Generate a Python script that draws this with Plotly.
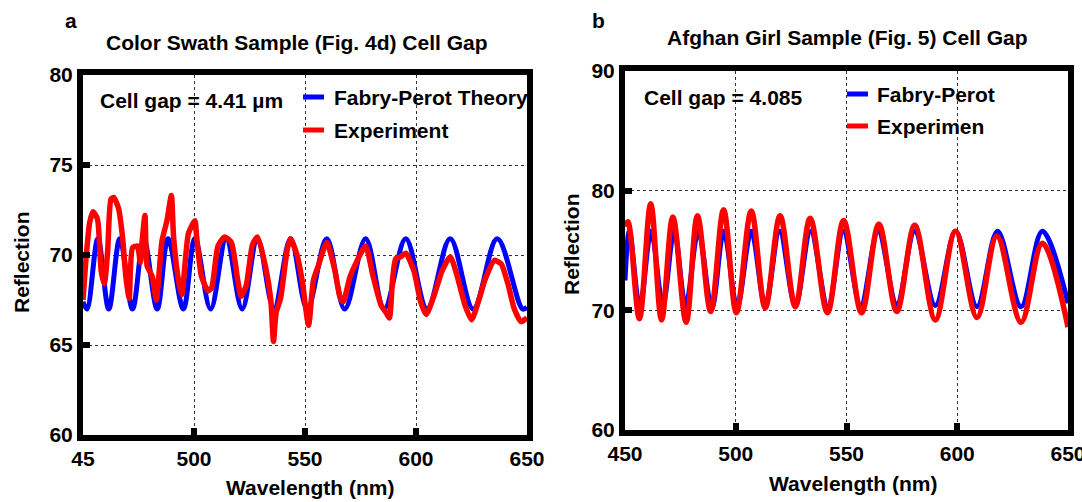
import plotly.graph_objects as go

# ---------------- data ----------------
# Panel a : Color Swath Sample (Fig. 4d)
fp_a_wl = [450, 451.8, 456.7, 461.6, 466.6, 472.3, 477.4, 483.4, 488.3, 495.2, 500.4, 507.5,
           514.5, 521.7, 528.6, 536.0, 543.5, 551.0, 559.8, 567.9, 577.3, 585.7, 595.4, 605.0,
           615.4, 625.8, 636.6, 648.0, 650]
fp_a_val = [67.4, 67.0, 70.9, 67.0, 70.9, 67.0, 70.9, 67.0, 70.9, 67.0, 70.9, 67.0,
            70.9, 67.0, 70.9, 67.0, 70.9, 67.0, 70.9, 67.0, 70.9, 67.0, 70.9, 67.0,
            70.9, 67.0, 70.9, 67.0, 67.1]

exp_a_wl = [450, 451.5, 453, 454.5, 456.5, 458.2, 459.6, 461.1, 462.6, 463.8, 466.0, 467.8,
            469.3, 470.8, 472.3, 474.5, 475.8, 476.8, 477.9, 478.9, 481.2, 483.0, 485.6,
            487.8, 489.8, 490.8, 493.0, 494.5, 497.5, 500.4, 501.2, 503.4, 506.4, 508.0,
            510.8, 513.8, 516.8, 519.7, 521.2, 523.5, 526.4, 528.6, 532.3, 534.6, 535.8,
            537.0, 539.0, 542.0, 543.5, 546.4, 548.7, 551.6, 553.8, 556.0, 559.8, 563.5,
            565.7, 567.2, 570.2, 572.4, 577.3, 580.5, 584.3, 586.5, 588.0, 589.4, 590.9,
            593.1, 595.4, 599.1, 602.1, 604.6, 608.0, 611.7, 615.4, 618.4, 622.1, 625.0,
            628.8, 631.0, 635.4, 638.4, 641.4, 644.3, 647.3, 650]
exp_a_val = [67.5, 70.0, 71.8, 72.4, 72.0, 69.1, 68.4, 70.2, 73.1, 73.2, 72.6, 71.0,
             68.8, 67.6, 70.4, 70.5, 69.6, 71.0, 72.2, 69.4, 68.8, 67.5, 70.8,
             71.9, 73.3, 71.0, 68.6, 67.8, 71.2, 71.9, 71.0, 68.8, 68.0, 68.2,
             70.5, 71.0, 70.7, 68.6, 67.7, 68.3, 70.6, 71.0, 69.3, 67.5, 65.2,
             66.8, 67.6, 70.3, 70.9, 70.0, 68.6, 66.1, 68.6, 69.4, 70.7, 69.1,
             67.7, 67.4, 68.75, 69.4, 70.5, 68.9, 67.2, 66.8, 66.5, 68.6, 69.8,
             69.9, 70.1, 69.1, 67.4, 66.7, 67.7, 69.1, 69.9, 68.9, 67.2, 66.4,
             67.7, 68.6, 69.7, 69.5, 68.4, 67.0, 66.3, 66.5]

# Panel b : Afghan Girl Sample (Fig. 5)
fp_b_wl = [450, 452.0, 456.7, 461.8, 467.1, 472.2, 477.4, 483.1, 489.2, 494.6, 500.6, 507.0,
           513.3, 519.8, 526.9, 533.8, 541.6, 548.6, 556.4, 564.3, 572.7, 580.8, 590.1,
           599.3, 608.9, 618.2, 628.8, 638.4, 650]
fp_b_val = [72.5, 76.6, 70.3, 76.6, 70.5, 76.6, 70.4, 76.6, 70.2, 76.6, 70.3, 76.6,
            70.4, 76.6, 70.4, 76.6, 70.3, 76.6, 70.4, 76.6, 70.5, 76.6, 70.4,
            76.6, 70.3, 76.6, 70.3, 76.6, 70.6]

exp_b_wl = [450, 451.3, 456.5, 461.6, 466.5, 471.6, 477.6, 482.7, 488.7, 494.5, 500.3, 507.0,
            513.3, 520.0, 526.9, 533.6, 541.4, 548.7, 556.8, 564.6, 572.7, 580.8, 590.1,
            599.2, 608.9, 617.9, 628.8, 638.4, 650]
exp_b_val = [77.0, 77.4, 69.3, 78.9, 69.2, 77.8, 69.0, 77.9, 69.9, 78.4, 69.8, 78.3,
             70.2, 77.9, 70.3, 77.7, 69.8, 77.5, 69.8, 77.2, 69.9, 77.1, 69.2,
             76.6, 69.4, 76.2, 69.0, 75.6, 68.6]

x_ticks = [450, 500, 550, 600, 650]
x_ticktext_a = ["45", "500", "550", "600", "650"]
x_ticktext_b = ["450", "500", "550", "600", "650"]
y_ticks_a = [60, 65, 70, 75, 80]
y_ticks_b = [60, 70, 80, 90]

# ---------------- figure ----------------
W, H = 1082, 502
FONT = "Liberation Sans, Arial, Helvetica, sans-serif"
BLUE = "#0000ff"
RED = "#ff0000"


def fx(p):
    return p / W


def fy(p):
    return 1 - p / H


fig = go.Figure()
fig.add_trace(go.Scatter(x=fp_a_wl, y=fp_a_val, mode="lines", name="Fabry-Perot Theory",
                         line=dict(color=BLUE, width=5, shape="spline", smoothing=1.0),
                         xaxis="x", yaxis="y", showlegend=False))
fig.add_trace(go.Scatter(x=exp_a_wl, y=exp_a_val, mode="lines", name="Experiment",
                         line=dict(color=RED, width=5.5, shape="spline", smoothing=0.6),
                         xaxis="x", yaxis="y", showlegend=False))
fig.add_trace(go.Scatter(x=fp_b_wl, y=fp_b_val, mode="lines", name="Fabry-Perot",
                         line=dict(color=BLUE, width=5, shape="spline", smoothing=1.0),
                         xaxis="x2", yaxis="y2", showlegend=False))
fig.add_trace(go.Scatter(x=exp_b_wl, y=exp_b_val, mode="lines", name="Experimen",
                         line=dict(color=RED, width=5.5, shape="spline", smoothing=1.0),
                         xaxis="x2", yaxis="y2", showlegend=False))

tickfont = dict(family=FONT, size=21, color="black", weight="bold")
common = dict(showline=True, linewidth=6, linecolor="black", mirror=True,
              ticks="inside", ticklen=7, tickwidth=6, tickcolor="black",
              showgrid=True, gridcolor="#333333", gridwidth=1, griddash="dot",
              zeroline=False, tickfont=tickfont, fixedrange=True, automargin=False,
              ticklabeloverflow="allow")

fig.update_layout(
    width=W, height=H,
    autosize=False,
    margin=dict(l=0, r=0, t=0, b=0, pad=0, autoexpand=False),
    paper_bgcolor="white", plot_bgcolor="white",
    showlegend=False,
    xaxis=dict(domain=[fx(83), fx(527)], range=[450, 650], tickvals=x_ticks,
               ticktext=x_ticktext_a, anchor="y", **common),
    yaxis=dict(domain=[fy(435), fy(75)], range=[60, 80], tickvals=y_ticks_a,
               anchor="x", **common),
    xaxis2=dict(domain=[fx(625), fx(1068)], range=[450, 650], tickvals=x_ticks,
                ticktext=x_ticktext_b, anchor="y2", **common),
    yaxis2=dict(domain=[fy(430), fy(71)], range=[60, 90], tickvals=y_ticks_b,
                anchor="x2", **common),
)

ann = []


def text(x, y, s, xanchor="center", angle=0):
    ann.append(dict(x=fx(x), y=fy(y), xref="paper", yref="paper", text=s,
                    showarrow=False, xanchor=xanchor, yanchor="middle", textangle=angle,
                    font=dict(family=FONT, size=21, color="black", weight="bold")))


text(71, 21, "a")
text(598, 21, "b")
text(297, 42, "Color Swath Sample (Fig. 4d) Cell Gap")
text(847, 37, "Afghan Girl Sample (Fig. 5) Cell Gap")
text(98, 100, "Cell gap = 4.41 µm", xanchor="left")
text(642, 97, "Cell gap = 4.085", xanchor="left")
text(332, 97, "Fabry-Perot Theory", xanchor="left")
text(332, 130, "Experiment", xanchor="left")
text(875, 94, "Fabry-Perot", xanchor="left")
text(875, 126, "Experimen", xanchor="left")
text(21, 262, "Reflection", angle=-90)
text(571, 244, "Reflection", angle=-90)
text(310, 487, "Wavelength (nm)")
text(853, 483, "Wavelength (nm)")
fig.update_layout(annotations=ann)

# legend keys
shapes = []
for (x0, x1, y, c) in [(303, 324, 97, BLUE), (303, 324, 130, RED),
                       (847, 868, 94, BLUE), (847, 868, 126, RED)]:
    shapes.append(dict(type="line", xref="paper", yref="paper", x0=fx(x0), x1=fx(x1),
                       y0=fy(y), y1=fy(y), line=dict(color=c, width=5)))
fig.update_layout(shapes=shapes)

fig.write_html(
    "out.html",
    config={"displayModeBar": False, "staticPlot": True},
    post_script="document.body.style.margin='0px';document.body.style.overflow='hidden';",
)
